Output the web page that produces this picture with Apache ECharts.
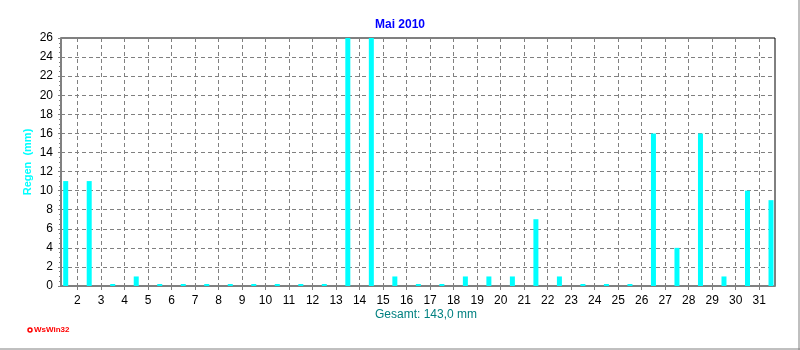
<!DOCTYPE html>
<html>
<head>
<meta charset="utf-8">
<script src="https://cdn.jsdelivr.net/npm/echarts@6/dist/echarts.min.js"></script>
<style>
html,body{margin:0;padding:0;background:#fff;}
#c{width:800px;height:350px;}
</style>
</head>
<body>
<div id="c"></div>
<script>
// Data
const title = 'Mai 2010';
const yName = 'Regen  (mm)';
const totalText = 'Gesamt: 143,0 mm';
const days = [1,2,3,4,5,6,7,8,9,10,11,12,13,14,15,16,17,18,19,20,21,22,23,24,25,26,27,28,29,30,31];
const rain = [11,11,0,1,0,0,0,0,0,0,0,0,26,26,1,0,0,1,1,1,7,1,0,0,0,16,4,16,1,10,9];
const xTickLabels = [2,3,4,5,6,7,8,9,10,11,12,13,14,15,16,17,18,19,20,21,22,23,24,25,26,27,28,29,30,31];

const chart = echarts.init(document.getElementById('c'), null, {renderer:'canvas'});
const font = '"Liberation Sans", Arial, sans-serif';
const gridGray = '#808080';

// bar for day d sits in the band between tick d and tick d+1
const barData = days.map((d, i) => [d + 0.5, rain[i]]);

chart.setOption({
  animation: false,
  backgroundColor: '#fff',
  title: {
    text: title, left: 'center', top: 14,
    textStyle: {color: '#0000FF', fontSize: 12, fontWeight: 'bold', fontFamily: font}
  },
  grid: {left: 61, right: 25, top: 38, bottom: 64, show: true, borderColor: '#000', borderWidth: 1, backgroundColor: 'transparent'},
  xAxis: {
    type: 'value', min: 1.3, max: 31.67,
    axisLine: {show: true, onZero: false, lineStyle: {color: gridGray, width: 2}},
    axisTick: {show: true, customValues: xTickLabels, length: 4, lineStyle: {color: gridGray}},
    axisLabel: {customValues: xTickLabels, color: '#000', fontSize: 12, fontFamily: font, margin: 9},
    splitLine: {show: true, lineStyle: {color: gridGray, type: [4, 3], width: 1}}
  },
  yAxis: {
    type: 'value', min: 0, max: 26, interval: 2,
    name: yName, nameLocation: 'middle', nameGap: 28, nameRotate: 90, nameMoveOverlap: false,
    nameTextStyle: {color: '#00FFFF', fontSize: 11, fontWeight: 'bold', fontFamily: font},
    axisLine: {show: true, lineStyle: {color: gridGray, width: 2}},
    axisTick: {show: true, length: 3, lineStyle: {color: gridGray}},
    minorTick: {show: true, splitNumber: 4, length: 2, lineStyle: {color: gridGray}},
    axisLabel: {color: '#000', fontSize: 12, fontFamily: font, margin: 8},
    splitLine: {show: true, lineStyle: {color: gridGray, type: [4, 3], width: 1}}
  },
  series: [{
    type: 'bar', data: barData, barWidth: 5, barMinHeight: 2,
    itemStyle: {color: '#00FFFF'}, silent: true
  }],
  graphic: [
    {type: 'text', left: 375, top: 309, z: 10,
     style: {text: totalText, fill: '#008080', font: '12px ' + font}},
    {type: 'circle', shape: {cx: 30, cy: 330, r: 2}, style: {fill: '#fff', stroke: '#FF0000', lineWidth: 1.5}},
    {type: 'text', left: 34, top: 326,
     style: {text: 'WsWin32', fill: '#FF0000', font: 'bold 8px ' + font}},
    {type: 'line', shape: {x1: 0, y1: 349, x2: 800, y2: 349}, style: {stroke: '#808080', lineWidth: 1}},
    {type: 'line', shape: {x1: 799, y1: 0, x2: 799, y2: 350}, style: {stroke: '#808080', lineWidth: 1}}
  ]
});
</script>
</body>
</html>
